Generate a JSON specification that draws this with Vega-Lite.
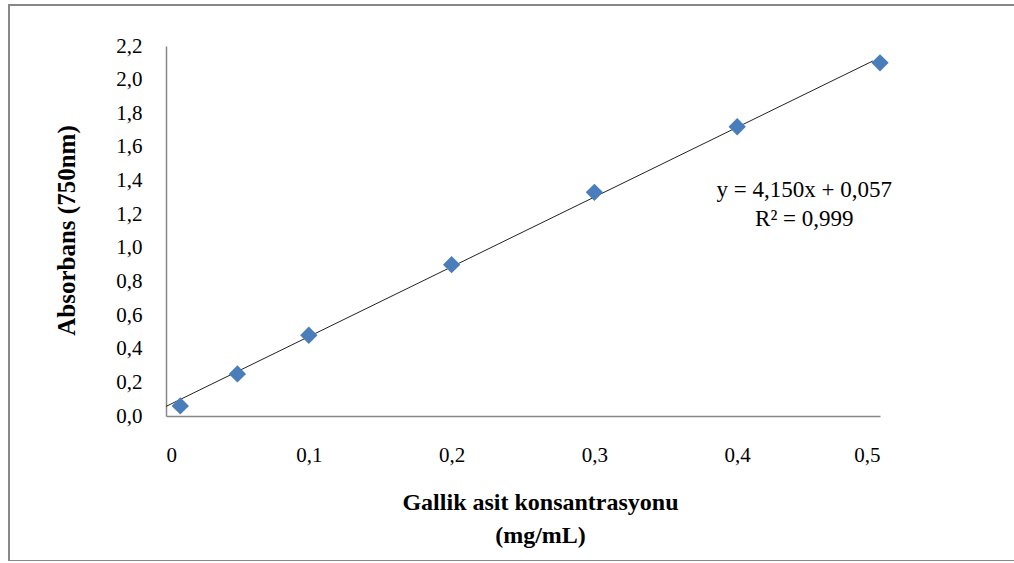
{
  "$schema": "https://vega.github.io/schema/vega-lite/v6.json",
  "width": 1010,
  "height": 556,
  "autosize": {"type": "none"},
  "padding": {"left": 9, "top": 5, "right": 0, "bottom": 0},
  "background": "white",
  "config": {
    "view": {"stroke": "#888888", "strokeWidth": 2},
    "font": "Liberation Serif"
  },
  "datasets": {
    "measurements": [
      {"konsantrasyon": 0.01, "absorbans": 0.06},
      {"konsantrasyon": 0.05, "absorbans": 0.25},
      {"konsantrasyon": 0.1, "absorbans": 0.48},
      {"konsantrasyon": 0.2, "absorbans": 0.90},
      {"konsantrasyon": 0.3, "absorbans": 1.33},
      {"konsantrasyon": 0.4, "absorbans": 1.72},
      {"konsantrasyon": 0.5, "absorbans": 2.10}
    ],
    "trend": [
      {"konsantrasyon": 0.0, "absorbans": 0.057},
      {"konsantrasyon": 0.495, "absorbans": 2.111}
    ],
    "equation": [
      {"konsantrasyon": 0.447, "absorbans": 1.345, "label": "y = 4,150x + 0,057"},
      {"konsantrasyon": 0.447, "absorbans": 1.17, "label": "R² = 0,999"}
    ]
  },
  "layer": [
    {
      "data": {"name": "trend"},
      "mark": {"type": "line", "color": "#222222", "strokeWidth": 1},
      "encoding": {
        "x": {
          "field": "konsantrasyon",
          "type": "quantitative",
          "scale": {"domain": [0, 0.5], "range": [157, 871], "nice": false, "zero": false},
          "axis": {
            "orient": "bottom",
            "offset": -145,
            "values": [0, 0.1, 0.2, 0.3, 0.4, 0.5],
            "labelExpr": "datum.value == 0 ? '0' : replace(format(datum.value, '.1f'), '.', ',')",
            "labelFont": "Liberation Serif",
            "labelFontSize": 21,
            "labelColor": "#000000",
            "labelPadding": 28,
            "ticks": false,
            "grid": false,
            "domainColor": "#888888",
            "domainWidth": 1.5,
            "title": ["Gallik asit konsantrasyonu", "(mg/mL)"],
            "titleFont": "Liberation Serif",
            "titleFontSize": 24,
            "titleFontWeight": "bold",
            "titleColor": "#000000",
            "titleLineHeight": 33,
            "titleX": 531,
            "titleY": 74,
            "titleBaseline": "top",
            "titleAlign": "center"
          }
        },
        "y": {
          "field": "absorbans",
          "type": "quantitative",
          "scale": {"domain": [0, 2.2], "range": [411, 41], "nice": false, "zero": false},
          "axis": {
            "orient": "left",
            "offset": -157,
            "values": [0, 0.2, 0.4, 0.6, 0.8, 1.0, 1.2, 1.4, 1.6, 1.8, 2.0, 2.2],
            "labelExpr": "replace(format(datum.value, '.1f'), '.', ',')",
            "labelFont": "Liberation Serif",
            "labelFontSize": 21,
            "labelColor": "#000000",
            "labelPadding": 24,
            "ticks": false,
            "grid": false,
            "domainColor": "#888888",
            "domainWidth": 1.5,
            "title": "Absorbans (750nm)",
            "titleFont": "Liberation Serif",
            "titleFontSize": 25,
            "titleFontWeight": "bold",
            "titleColor": "#000000",
            "titleAngle": 270,
            "titleAlign": "center",
            "titleBaseline": "middle",
            "titleX": -100,
            "titleY": 225
          }
        }
      }
    },
    {
      "data": {"name": "measurements"},
      "mark": {"type": "point", "shape": "diamond", "filled": true, "color": "#4A7EBB", "opacity": 1, "size": 300},
      "encoding": {
        "x": {"field": "konsantrasyon", "type": "quantitative"},
        "y": {"field": "absorbans", "type": "quantitative"}
      }
    },
    {
      "data": {"name": "equation"},
      "mark": {"type": "text", "font": "Liberation Serif", "fontSize": 23, "color": "#000000", "align": "center", "baseline": "middle"},
      "encoding": {
        "x": {"field": "konsantrasyon", "type": "quantitative"},
        "y": {"field": "absorbans", "type": "quantitative"},
        "text": {"field": "label"}
      }
    }
  ]
}
